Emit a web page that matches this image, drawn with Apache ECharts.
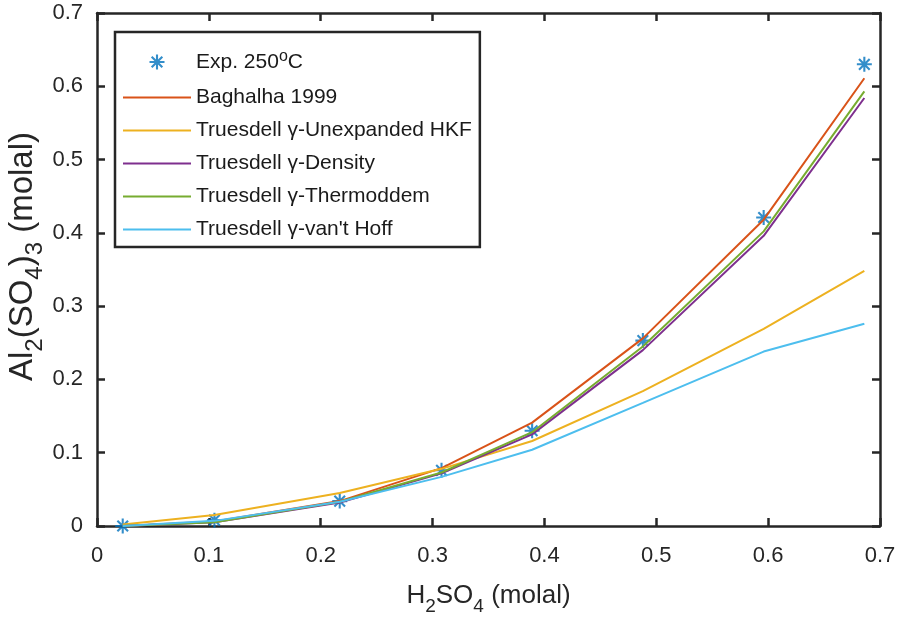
<!DOCTYPE html>
<html>
<head>
<meta charset="utf-8">
<script src="https://cdn.jsdelivr.net/npm/echarts@6/dist/echarts.min.js"></script>
<style>
html,body{margin:0;padding:0;background:#fff;}
#c{width:897px;height:623px;}
</style>
</head>
<body>
<div id="c"></div>
<script>
// ---- data ----
var xH2SO4 = [0.023, 0.105, 0.217, 0.308, 0.389, 0.488, 0.596, 0.686];
var expAl = [0.000, 0.008, 0.034, 0.076, 0.130, 0.253, 0.421, 0.630];
var baghalha = [0.000, 0.006, 0.034, 0.079, 0.141, 0.256, 0.418, 0.611];
var unexpHKF = [0.002, 0.015, 0.045, 0.078, 0.116, 0.184, 0.269, 0.348];
var density = [0.000, 0.005, 0.032, 0.072, 0.125, 0.240, 0.396, 0.584];
var thermoddem = [0.000, 0.005, 0.033, 0.073, 0.128, 0.245, 0.402, 0.593];
var vantHoff = [0.000, 0.007, 0.033, 0.067, 0.104, 0.168, 0.238, 0.276];
var seriesNames = ['Exp. 250°C', 'Baghalha 1999', 'Truesdell γ-Unexpanded HKF',
  'Truesdell γ-Density', 'Truesdell γ-Thermoddem', "Truesdell γ-van't Hoff"];
var xTicks = [0, 0.1, 0.2, 0.3, 0.4, 0.5, 0.6, 0.7];
var yTicks = [0, 0.1, 0.2, 0.3, 0.4, 0.5, 0.6, 0.7];

function pairs(xs, ys) { return xs.map(function (x, i) { return [x, ys[i]]; }); }

var FONT = "'Liberation Sans', Arial, sans-serif";
var AX = '#262626';
var star = 'path://M-1.4,-10L1.4,-10L1.4,10L-1.4,10Z M-10,-1.4L10,-1.4L10,1.4L-10,1.4Z ' +
  'M-8.1,-6.1L-6.1,-8.1L8.1,6.1L6.1,8.1Z M6.1,-8.1L8.1,-6.1L-6.1,8.1L-8.1,6.1Z';
var lineIcon = 'path://M0,0L100,0L100,3L0,3Z';

var chart = echarts.init(document.getElementById('c'), null, {renderer: 'canvas'});

function lineSeries(name, data, color) {
  return {
    name: name, type: 'line', data: pairs(xH2SO4, data),
    showSymbol: false, symbol: 'none',
    lineStyle: {color: color, width: 2}, itemStyle: {color: color},
    animation: false, z: 3
  };
}

var axisCommon = {
  type: 'value', min: xTicks[0], max: xTicks[xTicks.length - 1], interval: 0.1,
  axisLine: {show: true, onZero: false, lineStyle: {color: AX, width: 2.5}},
  axisTick: {show: true, inside: true, length: 8, lineStyle: {color: AX, width: 2.5}},
  splitLine: {show: false}
};

var legendData = seriesNames.map(function (n, i) {
  return i === 0 ? {name: n, icon: star} : {name: n, icon: lineIcon};
});

var option = {
  backgroundColor: '#fff',
  animation: false,
  grid: {left: 97, right: 17, top: 13, bottom: 97, containLabel: false, outerBoundsMode: 'none'},
  legend: {
    orient: 'vertical', left: 115, top: 32,
    padding: [17, 8, 7, 8],
    itemWidth: 68, itemHeight: 15, itemGap: 12, symbolKeepAspect: true,
    backgroundColor: '#fff', borderColor: AX, borderWidth: 2.5, borderRadius: 0,
    data: legendData,
    formatter: function (n) { return '{n|' + n.replace('°', '}{sup|o}{n|') + '}'; },
    textStyle: {
      fontFamily: FONT, color: '#1a1a1a',
      rich: {
        n: {fontFamily: FONT, fontSize: 21, lineHeight: 24, color: '#1a1a1a'},
        sup: {fontFamily: FONT, fontSize: 16, lineHeight: 16, padding: [0, 0, 10, 0], color: '#1a1a1a'}
      }
    }
  },
  xAxis: [
    Object.assign({}, axisCommon, {
      position: 'bottom',
      axisLabel: {fontFamily: FONT, fontSize: 22, color: AX, margin: 19},
      name: '{n|H}{sub|2}{n|SO}{sub|4}{n| (molal)}',
      nameLocation: 'middle', nameGap: 50, nameMoveOverlap: false,
      nameTextStyle: {
        rich: {
          n: {fontFamily: FONT, fontSize: 26, lineHeight: 40, color: AX},
          sub: {fontFamily: FONT, fontSize: 19, lineHeight: 19, padding: [21, 0, 0, 0], color: AX}
        }
      }
    }),
    Object.assign({}, axisCommon, {position: 'top', axisLabel: {show: false}})
  ],
  yAxis: [
    Object.assign({}, axisCommon, {
      min: yTicks[0], max: yTicks[yTicks.length - 1],
      position: 'left',
      axisLabel: {fontFamily: FONT, fontSize: 22, color: AX, margin: 14},
      name: '{n|Al}{sub|2}{n|(SO}{sub|4}{n|)}{sub|3}{n| (molal)}',
      nameLocation: 'middle', nameGap: 50, nameRotate: 90, nameMoveOverlap: false,
      nameTextStyle: {
        padding: [0, 0, 0, 26],
        rich: {
          n: {fontFamily: FONT, fontSize: 33, lineHeight: 49, color: AX},
          sub: {fontFamily: FONT, fontSize: 24, lineHeight: 24, padding: [25, 0, 0, 0], color: AX}
        }
      }
    }),
    Object.assign({}, axisCommon, {
      min: yTicks[0], max: yTicks[yTicks.length - 1],
      position: 'right', axisLabel: {show: false}
    })
  ],
  series: [
    {
      name: seriesNames[0], type: 'scatter', data: pairs(xH2SO4, expAl),
      symbol: star, symbolSize: 15, symbolKeepAspect: true,
      itemStyle: {color: '#0072BD'}, z: 2, animation: false
    },
    lineSeries(seriesNames[1], baghalha, '#D95319'),
    lineSeries(seriesNames[2], unexpHKF, '#EDB120'),
    lineSeries(seriesNames[3], density, '#7E2F8E'),
    lineSeries(seriesNames[4], thermoddem, '#77AC30'),
    lineSeries(seriesNames[5], vantHoff, '#4DBEEE')
  ]
};
chart.setOption(option);
</script>
</body>
</html>
